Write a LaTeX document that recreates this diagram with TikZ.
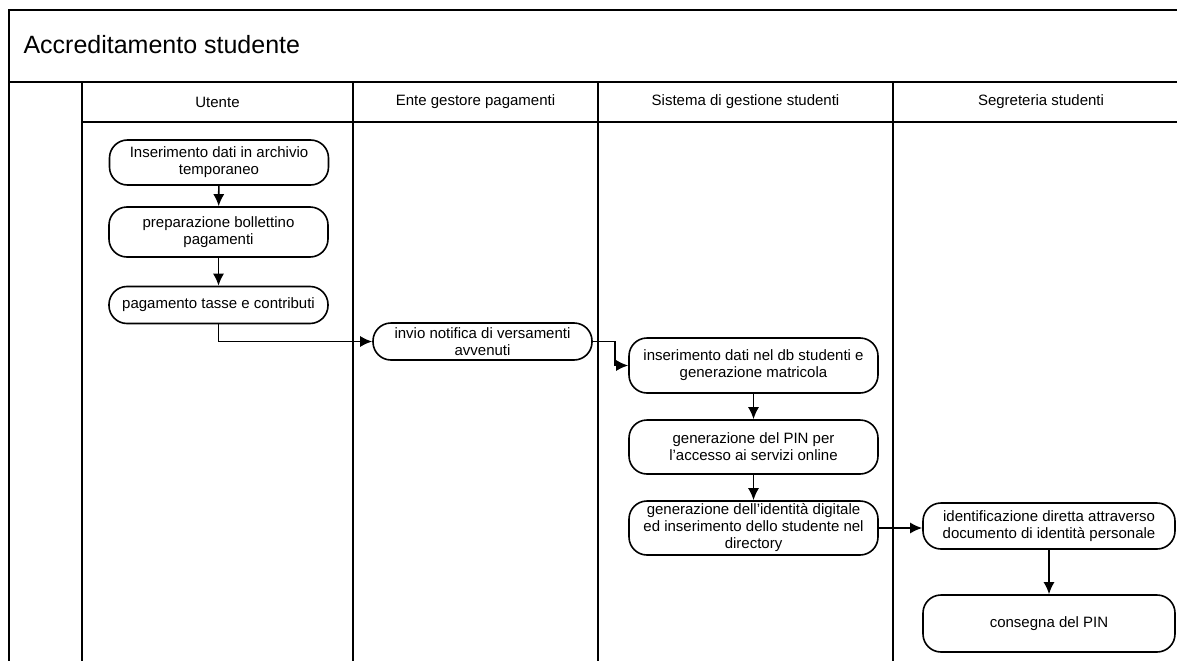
\documentclass[tikz,border=0pt]{standalone}
\usepackage{fontspec}
\setmainfont{Liberation Sans}
\usetikzlibrary{arrows.meta}
\begin{document}
\begin{tikzpicture}[x=1pt,y=-1pt,
  act/.style={draw, line width=1.6pt, rounded corners=18pt, align=center, inner sep=0pt, font=\fontsize{15}{17}\selectfont},
  flow/.style={line width=1.6pt, -{Latex[length=12pt,width=11pt]}},
  lane/.style={line width=2pt},
  hdr/.style={font=\fontsize{15}{17}\selectfont}]
\useasboundingbox (0,0) rectangle (1177,661);
\fill[white] (0,0) rectangle (1177,661);
% frame and lanes
\draw[lane] (1177,10) -- (9,10) -- (9,661);
\draw[lane] (9,82) -- (1177,82);
\draw[lane] (82,122) -- (1177,122);
\foreach \x in {82,353,598,893} \draw[lane] (\x,82) -- (\x,661);
\node[anchor=west, font=\fontsize{25}{30}\selectfont] (title) at (20,45) {Accreditamento studente};
\node[hdr] (hd1) at (217.5,102) {Utente};
\node[hdr] (hd2) at (475.5,102) {Ente gestore pagamenti};
\node[hdr] (hd3) at (745.5,102) {Sistema di gestione studenti};
\node[hdr] (hd4) at (1041,102) {Segreteria studenti};
% activities
\node[act, minimum width=219pt, minimum height=45pt] (act1) at (219,162.5) {Inserimento dati in archivio\\temporaneo};
\node[act, minimum width=219pt, minimum height=50pt] (act2) at (218.5,232) {preparazione bollettino\\pagamenti};
\node[act, minimum width=219pt, minimum height=37pt] (act3) at (218.5,305) {pagamento tasse e contributi};
\node[act, minimum width=219pt, minimum height=37pt] (act4) at (482.5,341.5) {invio notifica di versamenti\\avvenuti};
\node[act, minimum width=249pt, minimum height=55pt] (act5) at (753.5,365.5) {inserimento dati nel db studenti e\\generazione matricola};
\node[act, minimum width=249pt, minimum height=54pt] (act6) at (753.5,447) {generazione del PIN per\\l'accesso ai servizi online};
\node[act, minimum width=249pt, minimum height=54pt] (act7) at (753.5,528) {generazione dell'identità digitale\\ed inserimento dello studente nel\\directory};
\node[act, minimum width=252pt, minimum height=46pt] (act8) at (1049,526) {identificazione diretta attraverso\\documento di identità personale};
\node[act, minimum width=252pt, minimum height=57pt] (act9) at (1049,623.5) {consegna del PIN};
% flows
\draw[flow] (act1) -- (act2);
\draw[flow] (act2) -- (act3);
\draw[flow] (act3.south) |- (act4.west);
\draw[flow] (act4.east) -- ++(22,0) |- (act5.west);
\draw[flow] (act5) -- (act6);
\draw[flow] (act6) -- (act7);
\draw[flow] (act7.east) -- (act7.east -| act8.west);
\draw[flow] (act8) -- (act9);
\end{tikzpicture}
\end{document}
